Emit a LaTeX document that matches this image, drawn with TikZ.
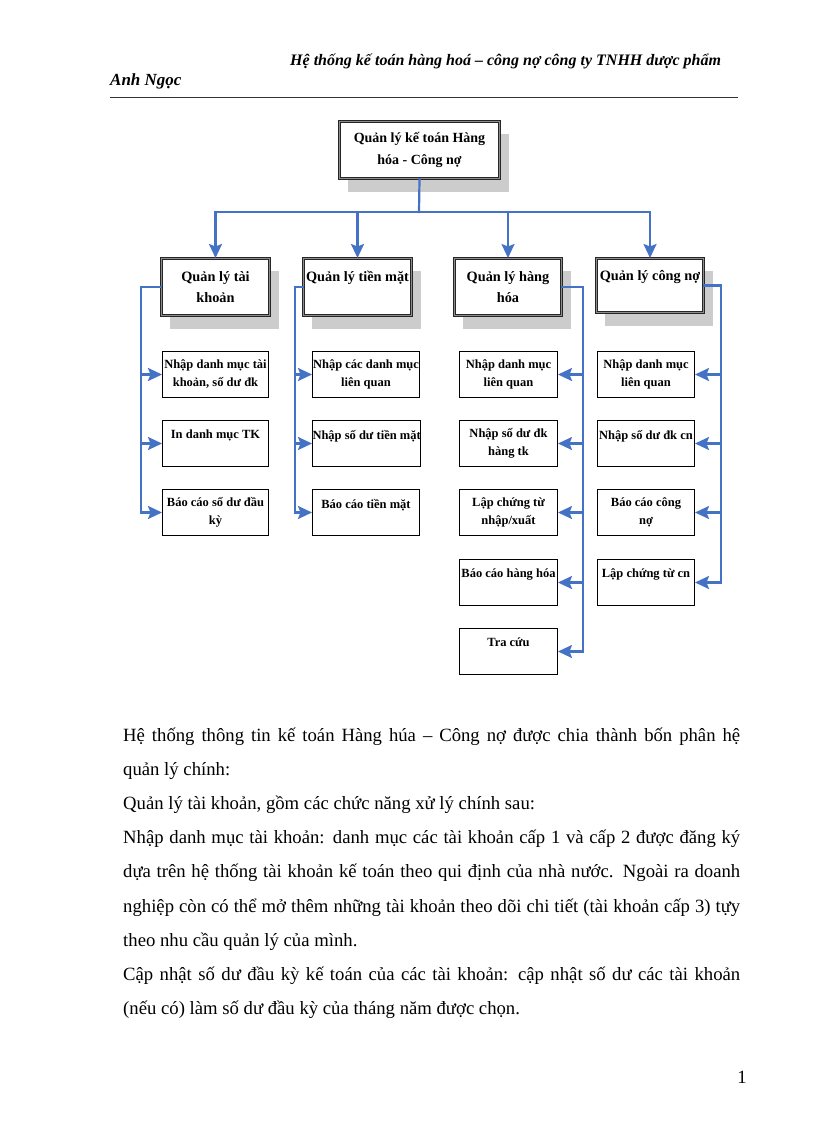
\documentclass[tikz,border=0pt]{standalone}
\usepackage{fontspec}
\setmainfont{Liberation Serif}
\usetikzlibrary{arrows.meta,calc,backgrounds}
\definecolor{lineblue}{RGB}{68,114,196}
\begin{document}
\begin{tikzpicture}[x=1pt,y=-1pt,
  shadowbox/.style={fill=black!20, draw=none},
  mainbox/.style={draw=black!85, line width=1pt, double=black!45, double distance=1pt, fill=white, inner sep=0pt, align=center, anchor=north west, font=\fontsize{14.3}{21}\selectfont\bfseries},
  subbox/.style={draw=black, line width=1pt, fill=white, inner sep=0pt, align=center, anchor=north west, font=\fontsize{12.5}{18}\selectfont\bfseries},
  bline/.style={draw=lineblue, line width=2.2pt, line cap=rect},
  barrow/.style={bline, -{Stealth[length=14pt,width=13pt,inset=2.5pt]}},
  bodytext/.style={anchor=base west, inner sep=0pt, font=\fontsize{18.7}{22}\selectfont},
  hdrtext/.style={anchor=base west, inner sep=0pt, font=\fontsize{16}{20}\selectfont\bfseries\itshape},
]
\useasboundingbox (0,0) rectangle (816,1123);

% header
\node[hdrtext] (hdr) at (290,66) {Hệ thống kế toán hàng hoá – công nợ công ty TNHH dược phẩm};
\node[hdrtext, font=\fontsize{17}{20}\selectfont\bfseries\itshape] (hdr2) at (110,86) {Anh Ngọc};
\coordinate (r1) at (110,97);
\coordinate (r2) at (738,97);
\draw[black!80, line width=0.9pt] (r1) -- (r2);

% top box
\node[mainbox, minimum width=160pt, minimum height=57pt, font=\fontsize{14}{22}\selectfont\bfseries] (T) at (339,121) {Quản lý kế toán Hàng\\hóa - Công nợ};

% level 2
\node[mainbox, minimum width=108pt, minimum height=57pt] (A) at (161,258) {Quản lý tài\\khoản};
\node[mainbox, minimum width=108pt, minimum height=57pt] (B) at (303,258) {Quản lý tiền mặt\\~};
\node[mainbox, minimum width=107pt, minimum height=57pt] (C) at (454,258) {Quản lý hàng\\hóa};
\node[mainbox, minimum width=107pt, minimum height=54pt] (D) at (596,258) {Quản lý công nợ\\~};

% children
\begin{scope}[every node/.append style={subbox, minimum height=46pt}]
\node[minimum width=106pt] (A1) at (162,351) {Nhập danh mục tài\\khoản, số dư đk};
\node[minimum width=106pt] (A2) at (162,420) {In danh mục TK\\~};
\node[minimum width=106pt] (A3) at (162,489) {Báo cáo số dư đầu\\kỳ};
\node[minimum width=107pt] (B1) at (312,351) {Nhập các danh mục\\liên quan};
\node[minimum width=107pt] (B2) at (312,420) {Nhập số dư tiền mặt\\~};
\node[minimum width=107pt] (B3) at (312,489) {Báo cáo tiền mặt\\~};
\node[minimum width=98pt] (C1) at (459,351) {Nhập danh mục\\liên quan};
\node[minimum width=98pt] (C2) at (459,420) {Nhập số dư đk\\hàng tk};
\node[minimum width=98pt] (C3) at (459,489) {Lập chứng từ\\nhập/xuất};
\node[minimum width=98pt] (C4) at (459,559) {Báo cáo hàng hóa\\~};
\node[minimum width=98pt] (C5) at (459,628) {Tra cứu\\~};
\node[minimum width=97pt] (D1) at (597,351) {Nhập danh mục\\liên quan};
\node[minimum width=97pt] (D2) at (597,420) {Nhập số dư đk cn\\~};
\node[minimum width=97pt] (D3) at (597,489) {Báo cáo công\\nợ};
\node[minimum width=97pt] (D4) at (597,559) {Lập chứng từ cn\\~};
\end{scope}

% shadows
\begin{scope}[on background layer]
\foreach \n in {T,A,B,C,D}
  \fill[shadowbox] ($(\n.north west)+(9,13)$) rectangle ($(\n.south east)+(9,13)$);
\end{scope}

% connectors top
\coordinate (bus) at (419,212);
\draw[bline] (T.south) -- (bus);
\draw[bline] (A.north |- bus) -- (D.north |- bus);
\foreach \n in {A,B,C,D}
  \draw[barrow] (\n.north |- bus) -- (\n.north);

% branches
\coordinate (aT) at ($(A.west)+(-20,0)$);
\draw[bline] (A.west) -- (aT) -- (aT |- A3.west);
\foreach \i in {1,2,3} \draw[barrow] (aT |- A\i.west) -- (A\i.west);

\coordinate (bT) at ($(B.west)+(-8,0)$);
\draw[bline] (B.west) -- (bT) -- (bT |- B3.west);
\foreach \i in {1,2,3} \draw[barrow] (bT |- B\i.west) -- (B\i.west);

\coordinate (cT) at ($(C.east)+(21,0)$);
\draw[bline] (C.east) -- (cT) -- (cT |- C5.east);
\foreach \i in {1,...,5} \draw[barrow] (cT |- C\i.east) -- (C\i.east);

\coordinate (dT) at ($(D.east)+(17,0)$);
\draw[bline] (D.east) -- (dT) -- (dT |- D4.east);
\foreach \i in {1,...,4} \draw[barrow] (dT |- D\i.east) -- (D\i.east);

% body text
\node[bodytext] (p1) at (123,741) {\makebox[617pt][s]{Hệ thống thông tin kế toán Hàng húa – Công nợ được chia thành bốn phân hệ}};
\node[bodytext] (p2) at (123,775.2) {quản lý chính:};
\node[bodytext] (p3) at (123,809.4) {Quản lý tài khoản, gồm các chức năng xử lý chính sau:};
\node[bodytext] (p4) at (123,843.6) {\makebox[617pt][s]{Nhập danh mục tài khoản: danh mục các tài khoản cấp 1 và cấp 2 được đăng ký}};
\node[bodytext] (p5) at (123,877.8) {\makebox[617pt][s]{dựa trên hệ thống tài khoản kế toán theo qui định của nhà nước. Ngoài ra doanh}};
\node[bodytext] (p6) at (123,912) {\makebox[617pt][s]{nghiệp còn có thể mở thêm những tài khoản theo dõi chi tiết (tài khoản cấp 3) tựy}};
\node[bodytext] (p7) at (123,946.2) {theo nhu cầu quản lý của mình.};
\node[bodytext] (p8) at (123,980.4) {\makebox[617pt][s]{Cập nhật số dư đầu kỳ kế toán của các tài khoản: cập nhật số dư các tài khoản}};
\node[bodytext] (p9) at (123,1014.6) {(nếu có) làm số dư đầu kỳ của tháng năm được chọn.};

% page number
\node[anchor=base, inner sep=0pt, font=\fontsize{18.7}{22}\selectfont] (pg) at (742,1083) {1};
\end{tikzpicture}
\end{document}
